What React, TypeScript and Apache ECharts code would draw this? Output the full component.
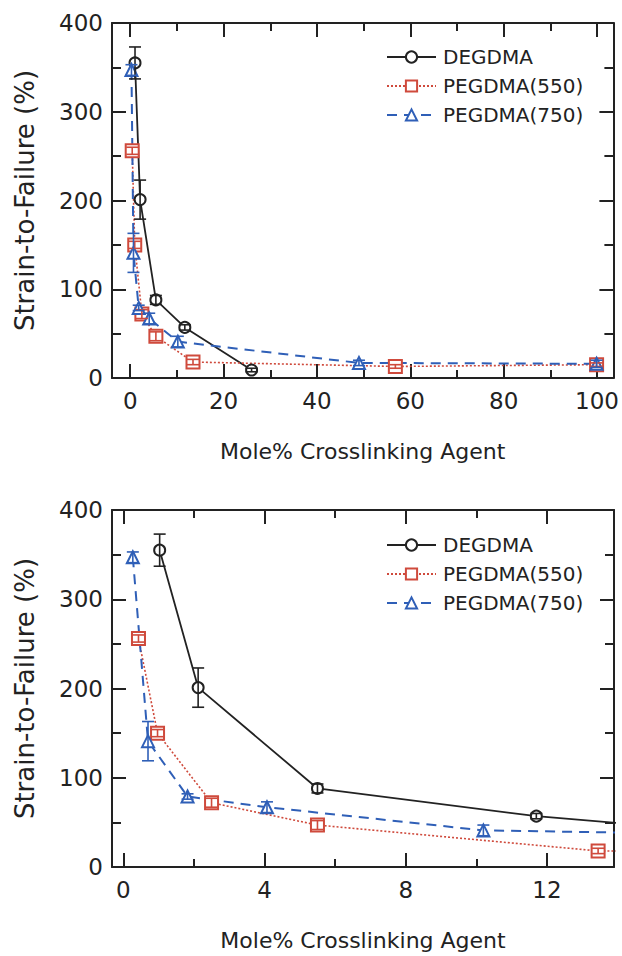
import { useEffect, useRef } from "react";
import * as echarts from "echarts";

// Strain-to-failure vs. crosslinker content, three crosslinking agents.
const seriesNames = ["DEGDMA", "PEGDMA(550)", "PEGDMA(750)"];

const degdmaX = [1.03, 2.12, 5.5, 11.7, 26.0];
const degdmaY = [355, 201, 88, 57, 9];
const degdmaErr = [18, 22, 5, 3, 2];

const peg550X = [0.43, 0.97, 2.5, 5.5, 13.45, 56.8, 99.9];
const peg550Y = [256, 150, 72, 47, 18, 13, 15];
const peg550Err = [4, 4, 5, 5, 3, 2, 2];

const peg750X = [0.27, 0.7, 1.82, 4.07, 10.2, 49.0, 99.9];
const peg750Y = [347, 141, 79, 67, 41, 17, 16];
const peg750Err = [6, 22, 3, 6, 6, 3, 4];

// Tick positions for the full-range panel and the zoomed panel
const fullXMajor = [0, 20, 40, 60, 80, 100];
const fullXMinor = [10, 30, 50, 70, 90];
const zoomXMajor = [0, 4, 8, 12];
const zoomXMinor = [2, 6, 10];
const yMajor = [0, 100, 200, 300, 400];
const yMinor = [50, 150, 250, 350];

const FONT = "DejaVu Sans";
const INK = "#222222";
const RED = "#cf4a3c";
const BLUE = "#2f5fb7";

const pairs = (xs: number[], ys: number[]) => xs.map((x, i) => [x, ys[i]]);
const bars = (xs: number[], ys: number[], es: number[]) =>
  xs.map((x, i) => [x, ys[i] - es[i], ys[i] + es[i]]);

function errorBar(color: string) {
  return (_params: any, api: any) => {
    const x = api.value(0);
    const top = api.coord([x, api.value(2)]);
    const bot = api.coord([x, api.value(1)]);
    const hw = 6;
    const style = { stroke: color, lineWidth: 1.6 };
    return {
      type: "group",
      children: [
        { type: "line", shape: { x1: top[0], y1: top[1], x2: bot[0], y2: bot[1] }, style },
        { type: "line", shape: { x1: top[0] - hw, y1: top[1], x2: top[0] + hw, y2: top[1] }, style },
        { type: "line", shape: { x1: bot[0] - hw, y1: bot[1], x2: bot[0] + hw, y2: bot[1] }, style },
      ],
    };
  };
}

const axisLineStyle = { color: INK, width: 2 };

function xAxes(grid: number, min: number, max: number, major: number[], minor: number[]) {
  const base = { type: "value", gridIndex: grid, min, max, splitLine: { show: false } };
  return [
    {
      ...base,
      position: "bottom",
      axisLine: { show: true, onZero: false, lineStyle: axisLineStyle },
      axisTick: { show: true, inside: true, length: 14, customValues: major, lineStyle: axisLineStyle },
      axisLabel: { customValues: major, fontSize: 23, fontFamily: FONT, color: INK, margin: 11 },
      name: "Mole% Crosslinking Agent",
      nameLocation: "middle",
      nameGap: 62,
      nameTextStyle: { fontSize: 22, fontFamily: FONT, color: INK },
    },
    {
      ...base,
      position: "bottom",
      axisLine: { show: false, onZero: false },
      axisTick: { show: true, inside: true, length: 8, customValues: minor, lineStyle: axisLineStyle },
      axisLabel: { show: false },
    },
    {
      ...base,
      position: "top",
      axisLine: { show: true, onZero: false, lineStyle: axisLineStyle },
      axisTick: { show: true, inside: true, length: 14, customValues: major, lineStyle: axisLineStyle },
      axisLabel: { show: false },
    },
    {
      ...base,
      position: "top",
      axisLine: { show: false, onZero: false },
      axisTick: { show: true, inside: true, length: 8, customValues: minor, lineStyle: axisLineStyle },
      axisLabel: { show: false },
    },
  ];
}

function yAxes(grid: number) {
  const base = { type: "value", gridIndex: grid, min: 0, max: 400, splitLine: { show: false } };
  return [
    {
      ...base,
      position: "left",
      axisLine: { show: true, onZero: false, lineStyle: axisLineStyle },
      axisTick: { show: true, inside: true, length: 14, customValues: yMajor, lineStyle: axisLineStyle },
      axisLabel: { customValues: yMajor, fontSize: 23, fontFamily: FONT, color: INK, margin: 9 },
      name: "Strain-to-Failure (%)",
      nameLocation: "middle",
      nameGap: 74,
      nameTextStyle: { fontSize: 26, fontFamily: FONT, color: INK },
    },
    {
      ...base,
      position: "left",
      axisLine: { show: false, onZero: false },
      axisTick: { show: true, inside: true, length: 9, customValues: yMinor, lineStyle: axisLineStyle },
      axisLabel: { show: false },
    },
    {
      ...base,
      position: "right",
      axisLine: { show: true, onZero: false, lineStyle: axisLineStyle },
      axisTick: { show: true, inside: true, length: 14, customValues: yMajor, lineStyle: axisLineStyle },
      axisLabel: { show: false },
    },
    {
      ...base,
      position: "right",
      axisLine: { show: false, onZero: false },
      axisTick: { show: true, inside: true, length: 9, customValues: yMinor, lineStyle: axisLineStyle },
      axisLabel: { show: false },
    },
  ];
}

function panelSeries(grid: number) {
  const xIdx = grid * 4;
  const yIdx = grid * 4;
  const defs = [
    { name: seriesNames[0], color: INK, symbol: "emptyCircle", size: 11, line: { type: "solid", width: 1.8 }, pts: pairs(degdmaX, degdmaY), err: bars(degdmaX, degdmaY, degdmaErr) },
    { name: seriesNames[1], color: RED, symbol: "emptyRect", size: 13, line: { type: [2, 2], width: 1.6 }, pts: pairs(peg550X, peg550Y), err: bars(peg550X, peg550Y, peg550Err) },
    { name: seriesNames[2], color: BLUE, symbol: "emptyTriangle", size: 12, line: { type: [10, 7], width: 2 }, pts: pairs(peg750X, peg750Y), err: bars(peg750X, peg750Y, peg750Err) },
  ];
  const out: any[] = [];
  defs.forEach((d) => {
    out.push({
      type: "line",
      name: d.name,
      xAxisIndex: xIdx,
      yAxisIndex: yIdx,
      data: d.pts,
      symbol: d.symbol,
      symbolSize: d.size,
      showAllSymbol: true,
      clip: true,
      color: d.color,
      lineStyle: { color: d.color, width: d.line.width, type: d.line.type },
      itemStyle: { color: d.color, borderColor: d.color, borderWidth: 1.3 },
      z: 2,
    });
    out.push({
      type: "custom",
      xAxisIndex: xIdx,
      yAxisIndex: yIdx,
      data: d.err,
      encode: { x: 0, y: [1, 2] },
      renderItem: errorBar(d.color),
      clip: true,
      silent: true,
      z: 3,
    });
  });
  return out;
}

function legendAt(top: number) {
  return {
    data: seriesNames,
    orient: "vertical",
    left: 381,
    top,
    itemWidth: 49,
    itemHeight: 14,
    itemGap: 9,
    selectedMode: false,
    textStyle: { fontSize: 20, fontFamily: FONT, color: INK, padding: [0, 0, 0, 2] },
  };
}

export default function App() {
  const ref = useRef<HTMLDivElement>(null);

  useEffect(() => {
    if (!ref.current) return;
    const chart = echarts.init(ref.current, undefined, { renderer: "svg" });
    chart.setOption({
      animation: false,
      backgroundColor: "#ffffff",
      textStyle: { fontFamily: FONT },
      grid: [
        { left: 112, top: 23, right: 8, height: 355 },
        { left: 112, top: 510, right: 8, height: 357 },
      ],
      legend: [legendAt(42), legendAt(530)],
      xAxis: [
        ...xAxes(0, -3.9, 103.5, fullXMajor, fullXMinor),
        ...xAxes(1, -0.32, 13.9, zoomXMajor, zoomXMinor),
      ],
      yAxis: [...yAxes(0), ...yAxes(1)],
      series: [...panelSeries(0), ...panelSeries(1)],
    });
    return () => chart.dispose();
  }, []);

  return (
    <div
      ref={ref}
      style={{ position: "fixed", left: 0, top: 0, width: 622, height: 956, background: "#fff" }}
    />
  );
}
